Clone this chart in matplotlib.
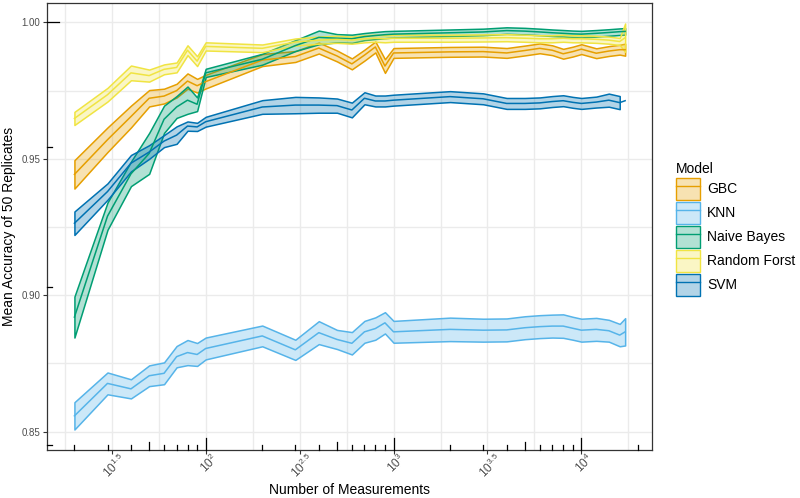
import numpy as np
import matplotlib
matplotlib.use("Agg")
import matplotlib.pyplot as plt
from matplotlib.patches import Patch
from matplotlib.lines import Line2D
from matplotlib.colors import to_rgba
from matplotlib.transforms import ScaledTranslation

plt.rcParams['font.family'] = ['Liberation Sans', 'DejaVu Sans']
plt.rcParams['mathtext.fontset'] = 'custom'
plt.rcParams['mathtext.rm'] = 'Liberation Sans'
plt.rcParams['mathtext.it'] = 'Liberation Sans'

# number of measurements (x positions)
n_meas = [20, 30, 40, 50, 60, 70, 80, 90, 100, 200, 300, 400, 500, 600, 700, 800, 900,
          1000, 2000, 3000, 4000, 5000, 6000, 7000, 8000, 9000, 10000, 12000, 14000, 16000, 17100]

models = ['GBC', 'KNN', 'Naive Bayes', 'Random Forst', 'SVM']
colors = ['#E69F00', '#56B4E9', '#009E73', '#F0E442', '#0072B2']

# mean accuracy and half width of the ribbon
gbc_mean = [0.9443, 0.9570, 0.9655, 0.9722, 0.9730, 0.9750, 0.9785, 0.9768, 0.9783, 0.9862, 0.9875,
            0.9906, 0.9877, 0.9848, 0.9880, 0.9910, 0.9840, 0.9888, 0.9892, 0.9893, 0.9888, 0.9897,
            0.9905, 0.9898, 0.9885, 0.9893, 0.9902, 0.9887, 0.9895, 0.9900, 0.9900]
gbc_hw = [0.0052, 0.0045, 0.0040, 0.0030, 0.0027, 0.0025, 0.0028, 0.0025, 0.0025, 0.0022, 0.0020,
          0.0020, 0.0020, 0.0020, 0.0020, 0.0020, 0.0025, 0.0018, 0.0018, 0.0018, 0.0018, 0.0018,
          0.0018, 0.0018, 0.0018, 0.0018, 0.0018, 0.0018, 0.0018, 0.0018, 0.0022]

knn_mean = [0.8558, 0.8677, 0.8657, 0.8705, 0.8714, 0.8775, 0.8790, 0.8783, 0.8805, 0.8851, 0.8800,
            0.8863, 0.8838, 0.8824, 0.8866, 0.8878, 0.8899, 0.8866, 0.8875, 0.8872, 0.8873, 0.8881,
            0.8885, 0.8887, 0.8887, 0.8879, 0.8872, 0.8875, 0.8870, 0.8854, 0.8866]
knn_hw = [0.0050, 0.0040, 0.0035, 0.0038, 0.0040, 0.0039, 0.0046, 0.0042, 0.0040, 0.0038, 0.0037,
          0.0042, 0.0035, 0.0041, 0.0040, 0.0041, 0.0039, 0.0040, 0.0043, 0.0042, 0.0042, 0.0042,
          0.0042, 0.0042, 0.0043, 0.0042, 0.0042, 0.0042, 0.0040, 0.0041, 0.0050]

nb_mean = [0.8920, 0.9290, 0.9445, 0.9520, 0.9645, 0.9690, 0.9715, 0.9700, 0.9815, 0.9865, 0.9915,
           0.9945, 0.9942, 0.9940, 0.9948, 0.9952, 0.9955, 0.9957, 0.9962, 0.9965, 0.9970, 0.9968,
           0.9965, 0.9962, 0.9960, 0.9958, 0.9957, 0.9960, 0.9963, 0.9966, 0.9967]
nb_hw = [0.0075, 0.0050, 0.0045, 0.0075, 0.0050, 0.0040, 0.0050, 0.0025, 0.0015, 0.0020, 0.0020,
         0.0025, 0.0015, 0.0015, 0.0013, 0.0013, 0.0013, 0.0012, 0.0012, 0.0012, 0.0012, 0.0012,
         0.0012, 0.0012, 0.0012, 0.0012, 0.0012, 0.0012, 0.0012, 0.0012, 0.0012]

rf_mean = [0.9648, 0.9735, 0.9815, 0.9805, 0.9828, 0.9835, 0.9898, 0.9858, 0.9912, 0.9905, 0.9928,
           0.9935, 0.9938, 0.9935, 0.9940, 0.9942, 0.9940, 0.9942, 0.9942, 0.9943, 0.9944, 0.9942,
           0.9940, 0.9940, 0.9942, 0.9940, 0.9940, 0.9938, 0.9935, 0.9930, 0.9944]
rf_hw = [0.0024, 0.0025, 0.0027, 0.0022, 0.0018, 0.0018, 0.0018, 0.0018, 0.0015, 0.0014, 0.0013,
         0.0013, 0.0013, 0.0013, 0.0013, 0.0013, 0.0013, 0.0013, 0.0013, 0.0013, 0.0013, 0.0013,
         0.0013, 0.0013, 0.0013, 0.0013, 0.0013, 0.0013, 0.0013, 0.0013, 0.0052]

svm_mean = [0.9264, 0.9380, 0.9484, 0.9525, 0.9565, 0.9587, 0.9620, 0.9617, 0.9636, 0.9690, 0.9697,
            0.9697, 0.9695, 0.9679, 0.9722, 0.9712, 0.9712, 0.9715, 0.9728, 0.9720, 0.9703, 0.9703,
            0.9705, 0.9710, 0.9713, 0.9707, 0.9703, 0.9708, 0.9715, 0.9706, 0.9713]
svm_hw = [0.0043, 0.0030, 0.0030, 0.0025, 0.0022, 0.0032, 0.0017, 0.0015, 0.0018, 0.0025, 0.0030,
          0.0028, 0.0026, 0.0027, 0.0022, 0.0020, 0.0020, 0.0020, 0.0020, 0.0020, 0.0020, 0.0020,
          0.0020, 0.0020, 0.0020, 0.0020, 0.0020, 0.0020, 0.0024, 0.0024, None]

means = [gbc_mean, knn_mean, nb_mean, rf_mean, svm_mean]
halfw = [gbc_hw, knn_hw, nb_hw, rf_hw, svm_hw]

x_major = [10**1.5, 10**2, 10**2.5, 10**3, 10**3.5, 10**4]
x_labels = [r'$10^{1.5}$', r'$10^{2}$', r'$10^{2.5}$', r'$10^{3}$', r'$10^{3.5}$', r'$10^{4}$']
x_minor = [10**1.25, 10**1.75, 10**2.25, 10**2.75, 10**3.25, 10**3.75, 10**4.25]
y_major = [0.85, 0.90, 0.95, 1.00]
y_labels = ['0.85', '0.90', '0.95', '1.00']
y_minor = [0.875, 0.925, 0.975]

fig = plt.figure(figsize=(8, 4.98), dpi=100)
ax = fig.add_axes([47 / 800, 48 / 498, 605 / 800, 447 / 498])

x = np.array(n_meas, dtype=float)
for name, col, m, hw in zip(models, colors, means, halfw):
    m = np.array(m, dtype=float)
    hw = np.array([np.nan if v is None else v for v in hw], dtype=float)
    ax.fill_between(x, m - hw, m + hw, facecolor=to_rgba(col, 0.3), edgecolor=col,
                    linewidth=1.1, zorder=3)
    ax.plot(x, m, color=col, linewidth=1.1, zorder=4)

ax.set_xscale('log')
ax.set_xlim(10**1.155, 10**4.376)
ax.set_ylim(0.84329, 1.00711)

ax.set_xticks(x_major)
ax.set_xticklabels(x_labels, rotation=45, ha='center', va='top', fontsize=8.5, color='#4D4D4D')
ax.set_xticks(x_minor, minor=True)
ax.set_yticks(y_major)
ax.set_yticklabels(y_labels, fontsize=7, color='#4D4D4D')
ax.set_yticks(y_minor, minor=True)
ax.tick_params(axis='both', which='major', length=3, width=0.8, color='#333333', pad=2)
ax.tick_params(axis='both', which='minor', length=0)
shift = ScaledTranslation(3 / 100, 6 / 100, fig.dpi_scale_trans)
for lab in ax.get_xticklabels():
    lab.set_transform(lab.get_transform() + shift)

ax.grid(True, which='both', color='#EBEBEB', linewidth=1.0, zorder=0)
ax.set_axisbelow(True)
for sp in ax.spines.values():
    sp.set_color('#333333')
    sp.set_linewidth(0.9)

# log ticks along the bottom and left sides
xt = ax.get_xaxis_transform()
yt = ax.get_yaxis_transform()
for dec in [10, 100, 1000, 10000]:
    for k in range(1, 10):
        v = k * dec
        if v < 10**1.155 or v > 10**4.376:
            continue
        h = 0.026 if k == 1 else (0.0186 if k == 5 else 0.0105)
        ax.plot([v, v], [0, h], transform=xt, color='black', linewidth=0.9,
                clip_on=False, zorder=5)
for k in range(1, 11):
    v = np.log10(k)
    if v < 0.84329:
        continue
    w = 0.0195 if k == 10 else (0.0138 if k == 5 else 0.0078)
    ax.plot([0, w], [v, v], transform=yt, color='black', linewidth=0.9,
            clip_on=False, zorder=5)

ax.set_xlabel('Number of Measurements', fontsize=10)
ax.xaxis.set_label_coords(0.5, -0.074)
ax.set_ylabel('Mean Accuracy of 50 Replicates', fontsize=10)
ax.yaxis.set_label_coords(-0.051, 0.5)

handles = [(Patch(facecolor=to_rgba(c, 0.3), edgecolor=c, linewidth=1.0),
            Line2D([], [], color=c, linewidth=1.0)) for c in colors]
leg = fig.legend(handles, models, loc='upper left', bbox_to_anchor=(669 / 800, 1 - 155 / 498),
                 frameon=False, title='Model', fontsize=10, title_fontsize=10,
                 handlelength=1.73, handleheight=2.05, labelspacing=0.15,
                 handletextpad=0.5, borderpad=0, alignment='left')

fig.savefig('out.png', dpi=100)
